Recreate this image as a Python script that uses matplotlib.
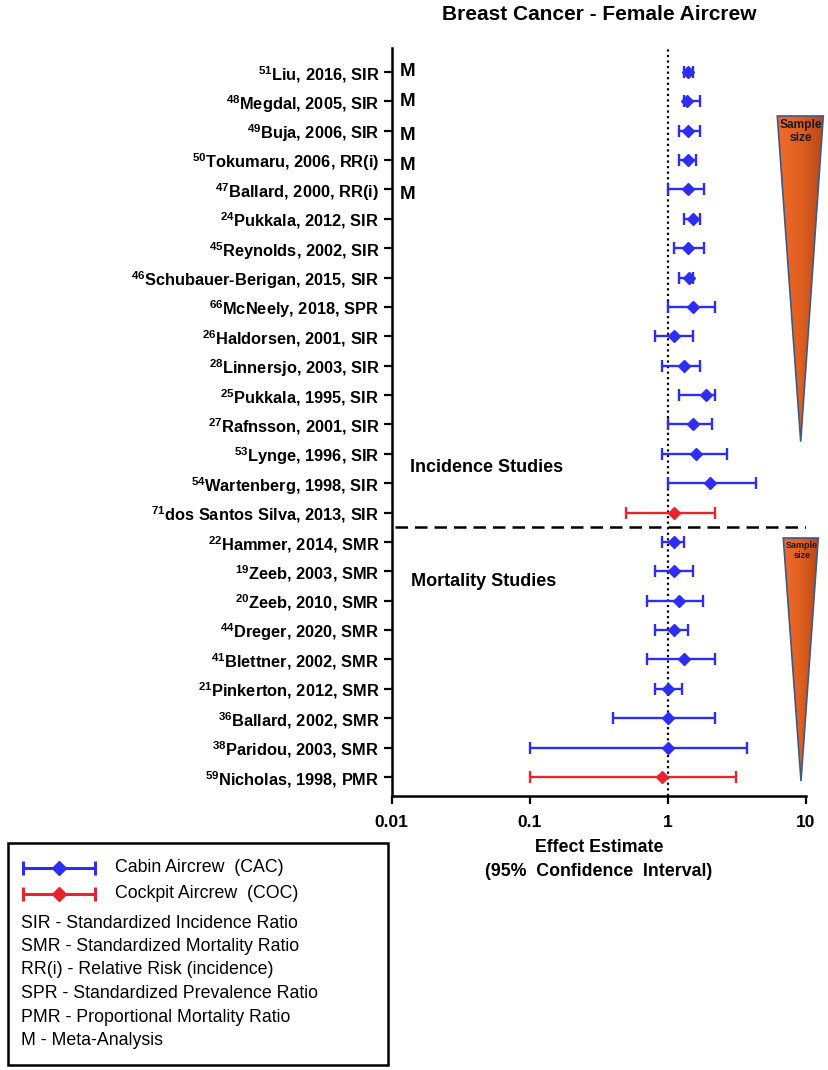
import numpy as np
import matplotlib
matplotlib.use("Agg")
import matplotlib.pyplot as plt
from matplotlib.patches import Polygon, Rectangle
from matplotlib.colors import LinearSegmentedColormap

plt.rcParams['font.family'] = ['Liberation Sans', 'DejaVu Sans']
plt.rcParams['mathtext.default'] = 'regular'

# ---------------- data (top to bottom) ----------------
refs = [51, 48, 49, 50, 47, 24, 45, 46, 66, 26, 28, 25, 27, 53, 54, 71,
        22, 19, 20, 44, 41, 21, 36, 38, 59]
studies = ["Liu, 2016, SIR", "Megdal, 2005, SIR", "Buja, 2006, SIR",
           "Tokumaru, 2006, RR(i)", "Ballard, 2000, RR(i)", "Pukkala, 2012, SIR",
           "Reynolds, 2002, SIR", "Schubauer-Berigan, 2015, SIR", "McNeely, 2018, SPR",
           "Haldorsen, 2001, SIR", "Linnersjo, 2003, SIR", "Pukkala, 1995, SIR",
           "Rafnsson, 2001, SIR", "Lynge, 1996, SIR", "Wartenberg, 1998, SIR",
           "dos Santos Silva, 2013, SIR", "Hammer, 2014, SMR", "Zeeb, 2003, SMR",
           "Zeeb, 2010, SMR", "Dreger, 2020, SMR", "Blettner, 2002, SMR",
           "Pinkerton, 2012, SMR", "Ballard, 2002, SMR", "Paridou, 2003, SMR",
           "Nicholas, 1998, PMR"]
estimate = [1.40, 1.38, 1.40, 1.40, 1.40, 1.52, 1.40, 1.41, 1.52, 1.10, 1.31, 1.89,
            1.52, 1.60, 2.01, 1.10, 1.10, 1.10, 1.21, 1.10, 1.31, 1.01, 1.00, 1.00, 0.90]
ci_low = [1.30, 1.31, 1.20, 1.20, 1.00, 1.31, 1.10, 1.20, 1.00, 0.81, 0.90, 1.20,
          1.00, 0.90, 1.00, 0.50, 0.90, 0.80, 0.70, 0.80, 0.70, 0.80, 0.40, 0.10, 0.10]
ci_high = [1.52, 1.71, 1.71, 1.61, 1.82, 1.71, 1.82, 1.52, 2.20, 1.52, 1.71, 2.20,
           2.10, 2.70, 4.35, 2.20, 1.31, 1.51, 1.80, 1.40, 2.21, 1.26, 2.21, 3.73, 3.12]
crew = ["CAC"] * 15 + ["COC"] + ["CAC"] * 8 + ["COC"]
meta = [True] * 5 + [False] * 20
xticks = [0.01, 0.1, 1, 10]
xticklabels = ["0.01", "0.1", "1", "10"]

colors = {"CAC": "#2e2ef2", "COC": "#e8232b"}

# ---------------- figure ----------------
W, H = 829, 1070
fig = plt.figure(figsize=(W / 100, H / 100), dpi=100)
ax = fig.add_axes([391.7 / W, 1 - 796 / H, (806 - 391.7) / W, (796 - 48) / H])

n = len(studies)
ypos = np.arange(n)[::-1]  # top row = n-1

for i in range(n):
    c = colors[crew[i]]
    e = estimate[i]
    ax.errorbar(e, ypos[i], xerr=[[e - ci_low[i]], [ci_high[i] - e]],
                fmt='D', color=c, ecolor=c, markersize=6, elinewidth=1.7,
                capsize=4.5, capthick=1.7, zorder=3)

ax.set_xscale('log')
ax.set_xlim(0.01, 10)
ax.set_ylim(-0.647, n - 1 + 0.817)
ax.set_xticks(xticks)
ax.set_xticklabels(xticklabels, fontweight='bold', fontsize=12.5)
ax.xaxis.set_minor_locator(matplotlib.ticker.NullLocator())
ax.set_yticks(ypos)
ax.set_yticklabels([f"$^{{{r}}}${s}" for r, s in zip(refs, studies)],
                   fontweight='bold', fontsize=11.8)
ax.tick_params(axis='both', width=1.6, length=6, direction='out')
ax.tick_params(axis='x', pad=8)
ax.tick_params(axis='y', pad=3)
for s in ['top', 'right']:
    ax.spines[s].set_visible(False)
for s in ['left', 'bottom']:
    ax.spines[s].set_linewidth(1.8)

# reference line at 1
ax.axvline(1, color='black', linestyle=(0, (1, 1.5)), linewidth=1.6, zorder=1)
# separator between incidence and mortality studies
sep = (ypos[15] + ypos[16]) / 2
ax.axhline(sep, xmin=0.008, xmax=0.9996, color='black', linestyle=(0, (5, 2.8)),
           linewidth=1.8, zorder=1)

# M markers for meta-analyses
m_off = [0, 0, -0.17, -0.17, -0.17]
k = 0
for i in range(n):
    if meta[i]:
        ax.text(0.02, ypos[i] + m_off[k], "M", fontweight='bold', fontsize=13.5,
                va='center', ha='left', transform=ax.get_yaxis_transform())
        k += 1

ax.text(0.044, ypos[13] - 0.45, "Incidence Studies", fontweight='bold', fontsize=13,
        va='center', ha='left', transform=ax.get_yaxis_transform())
ax.text(0.047, ypos[17] - 0.35, "Mortality Studies", fontweight='bold', fontsize=13,
        va='center', ha='left', transform=ax.get_yaxis_transform())

ax.set_xlabel("Effect Estimate\n(95%  Confidence  Interval)", fontweight='bold',
              fontsize=12.8, labelpad=6, linespacing=1.55)
fig.text(599 / W, 1 - 15 / H, "Breast Cancer - Female Aircrew", fontweight='bold',
         fontsize=15, ha='center', va='center')

# ---------------- overlay (decorations in pixel coords) ----------------
ov = fig.add_axes([0, 0, 1, 1], zorder=5)
ov.set_xlim(0, W)
ov.set_ylim(H, 0)
ov.axis('off')
ov.patch.set_alpha(0)

grad = np.linspace(0, 1, 64)[None, :]
cmap = LinearSegmentedColormap.from_list("org", ["#f26b2c", "#e0601f", "#b9481a"])

def triangle(x0, x1, ytop, xtip, ybot, txt_size):
    poly = Polygon([[x0, ytop], [x1, ytop], [xtip, ybot]], closed=True,
                   facecolor='none', edgecolor='#3d5a85', linewidth=1.2, zorder=6)
    ov.add_patch(poly)
    im = ov.imshow(grad, cmap=cmap, extent=[x0, x1, ybot, ytop], aspect='auto',
                   zorder=5, interpolation='bilinear')
    clip = Polygon([[x0, ytop], [x1, ytop], [xtip, ybot]], closed=True,
                   transform=ov.transData)
    im.set_clip_path(clip)
    ov.text((x0 + x1) / 2 + 1, ytop + 3, "Sample\nsize", fontsize=txt_size,
            fontweight='bold', ha='center', va='top', color='#1a1a1a',
            linespacing=1.15, zorder=7)

triangle(777.3, 823.3, 116, 800.7, 441.7, 8.6)
triangle(783.3, 818.3, 538, 801, 781, 6.5)

# legend box
ov.add_patch(Rectangle((8, 843), 380, 222, facecolor='white', edgecolor='black',
                       linewidth=1.8, zorder=5))
for yy, key, lab in [(868, "CAC", "Cabin Aircrew  (CAC)"),
                     (894, "COC", "Cockpit Aircrew  (COC)")]:
    c = colors[key]
    ov.errorbar(59, yy, xerr=36, fmt='D', color=c, ecolor=c, markersize=7,
                elinewidth=2.2, capsize=5, capthick=2.2, zorder=6)
    ov.text(115, yy, lab, fontsize=12.8, va='center', ha='left', zorder=6)

abbr = ["SIR - Standardized Incidence Ratio", "SMR - Standardized Mortality Ratio",
        "RR(i) - Relative Risk (incidence)", "SPR - Standardized Prevalence Ratio",
        "PMR - Proportional Mortality Ratio", "M - Meta-Analysis"]
for j, t in enumerate(abbr):
    ov.text(21, 923 + j * 23.5, t, fontsize=12.8, va='center', ha='left', zorder=6)

fig.savefig("out.png", dpi=100)
